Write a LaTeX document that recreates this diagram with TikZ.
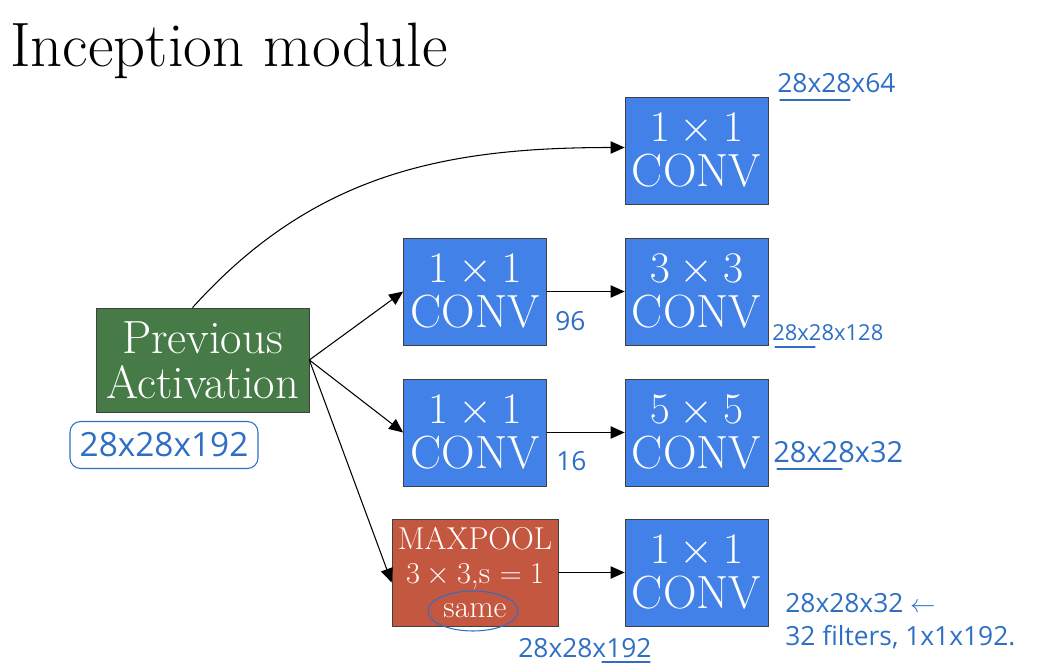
\documentclass[tikz,border=0pt]{standalone}
\usepackage{fontspec}
\usepackage{tikz}
\usetikzlibrary{arrows.meta,shapes.geometric}
\newfontfamily\handfont{Open Sans}
\definecolor{ConvBlue}{HTML}{4282E8}
\definecolor{PrevGreen}{HTML}{467A46}
\definecolor{PoolRed}{HTML}{C4573F}
\definecolor{InkBlue}{HTML}{2E6FC4}

\begin{document}
\begin{tikzpicture}[
  x=0.02cm, y=-0.02cm,
  box/.style={draw=black!75, align=center, text=white, inner sep=0pt,
              minimum width=2.86cm, minimum height=2.14cm,
              font=\fontsize{26.5}{25.6}\selectfont},
  conv/.style ={box, fill=ConvBlue},
  prevbox/.style={box, fill=PrevGreen, minimum width=4.26cm, minimum height=2.08cm},
  pool/.style ={box, fill=PoolRed, minimum width=3.32cm,
                font=\fontsize{18}{19.3}\selectfont},
  arr/.style={-{Triangle[length=8pt,width=7pt]}, semithick},
  hand/.style={InkBlue, font=\handfont\fontsize{15}{17}\selectfont, anchor=base west, inner sep=0pt},
  ink/.style={InkBlue, semithick, line cap=round},
]
\useasboundingbox (0,0) rectangle (1043,665);

%% ── Title ────────────────────────────────────
\node[anchor=base west, inner sep=0pt, font=\fontsize{35.7}{38}\selectfont]
     (title) at (10,67) {Inception module};

%% ── Input ────────────────────────────────────
\node[prevbox] at (202.5,360) (prev) {Previous\\Activation};

%% ── First column ─────────────────────────────
\node[conv] at (475,291.5) (red1) {$1\times1$\\CONV};
\node[conv] at (475,432.5) (red2) {$1\times1$\\CONV};
\node[pool] at (475,572.5) (mpool) {MAXPOOL\\$3\times3$,s $=1$\\same};

%% ── Second column ────────────────────────────
\node[conv] at (696.5,150.5) (c1) {$1\times1$\\CONV};
\node[conv] at (696.5,291.5) (c3) {$3\times3$\\CONV};
\node[conv] at (696.5,432.5) (c5) {$5\times5$\\CONV};
\node[conv] at (696.5,572.5) (cp) {$1\times1$\\CONV};

%% ── Arrows ───────────────────────────────────
\draw[arr] ([xshift=-0.2cm]prev.north) to[out=48, in=180] ([yshift=0.06cm]c1.west);
\draw[arr] (prev.east) -- (red1.west);
\draw[arr] (prev.east) -- (red2.west);
\draw[arr] (prev.east) -- ([yshift=-0.2cm]mpool.west);
\draw[arr] (red1) -- (c3);
\draw[arr] (red2) -- (c5);
\draw[arr] (mpool) -- (cp);

%% ── Handwritten notes ────────────────────────
\node[hand, anchor=center, draw=InkBlue, semithick, rounded corners=6pt,
      minimum width=3.76cm, minimum height=0.94cm,
      font=\handfont\fontsize{19}{21}\selectfont] at (164,445) (inbox) {28x28x192};
\node[hand] at (777,93)  (n64)  {28x28x64};
\node[hand] at (555,330) (n96)  {96};
\node[hand, font=\handfont\fontsize{12.5}{14}\selectfont] at (772,340) (n128) {28x28x128};
\node[hand] at (556,470) (n16)  {16};
\node[hand, font=\handfont\fontsize{16.5}{19}\selectfont] at (773,462) (n32)  {28x28x32};
\node[hand] at (518,657) (n192) {28x28x192};
\node[hand] at (785,612) (nout) {28x28x32 $\leftarrow$};
\node[hand] at (785,645) (nflt) {32 filters, 1x1x192.};
\node[ellipse, draw=InkBlue, semithick, minimum width=1.8cm, minimum height=0.8cm]
     at (473,611) (samering) {};

%% ── Underlines ───────────────────────────────
\draw[ink] (780,100) -- (850,100);
\draw[ink] (775,347) -- (815,347);
\draw[ink] (777,469) -- (842,469);
\draw[ink] (602,662) -- (650,662);

\end{tikzpicture}
\end{document}
